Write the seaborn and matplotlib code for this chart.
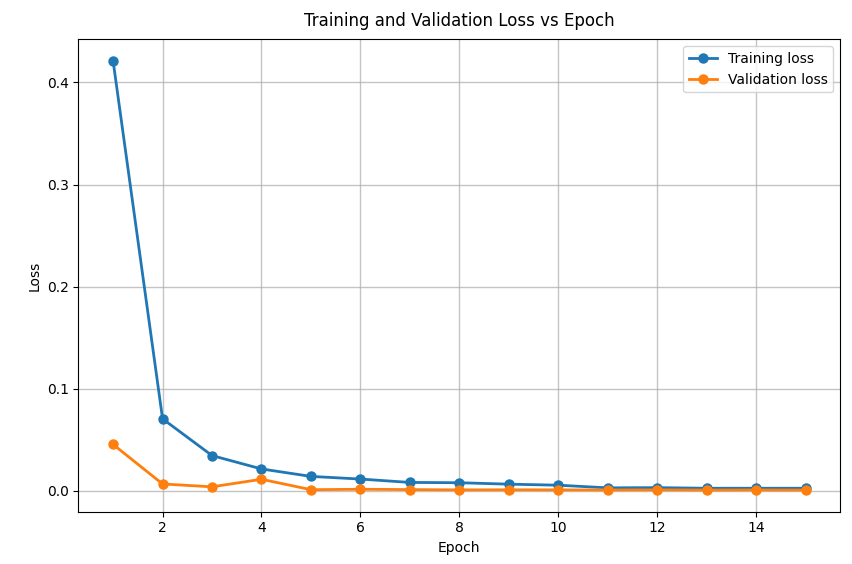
import matplotlib
matplotlib.use("Agg")
import matplotlib.pyplot as plt
import seaborn as sns
import pandas as pd

epochs = list(range(1, 16))
train_loss = [0.421, 0.0706, 0.0346, 0.0215, 0.0142, 0.0116, 0.0083, 0.0080, 0.0066, 0.0056, 0.0030, 0.0032, 0.0026, 0.0026, 0.0026]
val_loss = [0.0455, 0.0068, 0.0040, 0.0114, 0.0012, 0.0016, 0.0013, 0.0010, 0.0011, 0.0010, 0.0009, 0.0010, 0.0008, 0.0009, 0.0008]

df = pd.DataFrame({
    "Epoch": epochs * 2,
    "Loss": train_loss + val_loss,
    "Series": ["Training loss"] * len(epochs) + ["Validation loss"] * len(epochs),
})

fig, ax = plt.subplots(figsize=(8.53, 5.64), dpi=100)
sns.lineplot(data=df, x="Epoch", y="Loss", hue="Series", marker="o", markeredgewidth=0,
             markersize=7.5, linewidth=2, palette=["#1f77b4", "#ff7f0e"], ax=ax)
ax.grid(True, color="#b0b0b0", linewidth=1.0, alpha=0.75)
ax.set_title("Training and Validation Loss vs Epoch", fontsize=12, pad=10)
ax.set_xlabel("Epoch")
ax.set_ylabel("Loss")
ax.legend(title=None, loc="upper right")
plt.subplots_adjust(left=0.092, right=0.985, top=0.93, bottom=0.093)
fig.savefig("out.png", dpi=100)
